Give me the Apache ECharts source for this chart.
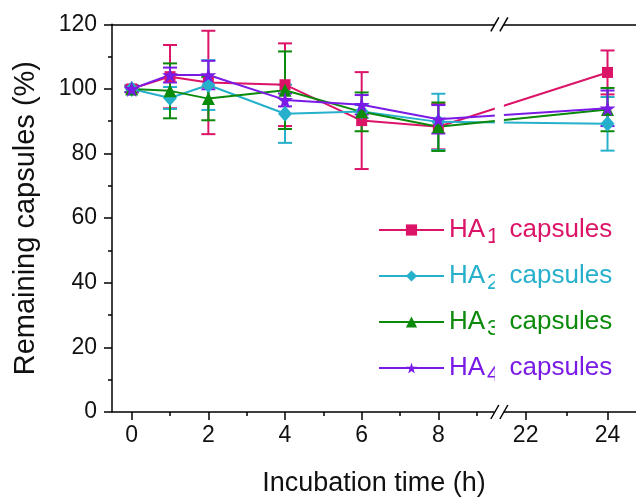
<!DOCTYPE html>
<html><head><meta charset="utf-8">
<script src="https://cdn.jsdelivr.net/npm/echarts@6/dist/echarts.min.js"></script>
<style>html,body{margin:0;padding:0;background:#fff}#c{width:636px;height:502px}</style>
</head><body><div id="c"></div>
<script>
// ---- data ----
const hours = [0, 1, 2, 4, 6, 8, 24];
const xTickLabels = [0, 2, 4, 6, 8, 22, 24];
const xMinorTicks = [1, 3, 5, 7, 9, 23];
const seriesNames = ['HA1 capsules', 'HA2 capsules', 'HA3 capsules', 'HA4 capsules'];
const ha1 = [100, 103.8, 102.0, 101.3, 90.2, 88.3, 105.1];
const ha1Err = [1.0, 9.8, 16.0, 12.8, 15.0, 7.0, 6.8];
const ha2 = [100, 97.2, 101.2, 92.3, 93.0, 89.8, 89.2];
const ha2Err = [1.0, 3.4, 7.7, 9.0, 2.0, 8.7, 8.3];
const ha3 = [100, 99.4, 97.0, 99.6, 92.9, 88.3, 93.6];
const ha3Err = [1.0, 8.5, 6.7, 12.0, 6.0, 7.5, 6.7];
const ha4 = [100, 104.3, 104.3, 96.6, 95.1, 90.6, 94.0];
const ha4Err = [1.0, 2.3, 4.4, 2.0, 3.0, 4.4, 5.5];

// ---- style ----
const colors = ['#DC1468', '#26B0CC', '#0B8A0B', '#7A1AE6'];
const STAR = 'path://M50,0 L61,35 L98,35 L68,57 L79,91 L50,70 L21,91 L32,57 L2,35 L39,35 Z';
const symbols = ['rect', 'diamond', 'triangle', STAR];
const symbolSizes = [11, [14, 16], 13, 16];
const FONT = "'Liberation Sans', Arial, sans-serif";

// broken time axis: hours -> axis position
function pos(t) { return t <= 9.6 ? t : 10.278 + (t - 22) * 1.068; }
function inv(p) { return p <= 9.7 ? p : 22 + (p - 10.278) / 1.068; }

const vals = [ha1, ha2, ha3, ha4];
const errs = [ha1Err, ha2Err, ha3Err, ha4Err];

const chart = echarts.init(document.getElementById('c'), null, {renderer: 'canvas'});

const series = [];
vals.forEach((v, i) => {
  const c = colors[i];
  series.push({
    type: 'custom', name: 'err' + i, xAxisIndex: 0, yAxisIndex: 0,
    encode: {x: 0, y: [1, 2]},
    data: hours.map((h, k) => [pos(h), v[k] - errs[i][k], v[k] + errs[i][k]]),
    renderItem: (params, api) => {
      const x = api.value(0);
      const lo = api.coord([x, api.value(1)]);
      const hi = api.coord([x, api.value(2)]);
      const w = 7;
      const st = {stroke: c, lineWidth: 2};
      return {type: 'group', children: [
        {type: 'line', shape: {x1: lo[0], y1: lo[1], x2: hi[0], y2: hi[1]}, style: st},
        {type: 'line', shape: {x1: lo[0] - w, y1: lo[1], x2: lo[0] + w, y2: lo[1]}, style: st},
        {type: 'line', shape: {x1: hi[0] - w, y1: hi[1], x2: hi[0] + w, y2: hi[1]}, style: st}
      ]};
    }
  });
  series.push({
    type: 'line', name: seriesNames[i], xAxisIndex: 0, yAxisIndex: 0,
    data: hours.map((h, k) => [pos(h), v[k]]),
    symbol: symbols[i], symbolSize: symbolSizes[i], showSymbol: true,
    itemStyle: {color: c}, lineStyle: {color: c, width: 2}
  });
});

const rich = {};
colors.forEach((c, i) => {
  rich['n' + i] = {fontSize: 26, color: c, fontFamily: FONT, lineHeight: 36};
  rich['s' + i] = {fontSize: 22, color: c, fontFamily: FONT, lineHeight: 14, verticalAlign: 'bottom', padding: [0, 3, 0, 2]};
});

const xMin = -0.514, xMax = 13.157;
const axisLineStyle = {color: '#000', width: 1.5};

chart.setOption({
  animation: false,
  backgroundColor: '#fff',
  grid: {left: 112, top: 24.3, width: 540, height: 389},
  legend: {
    orient: 'vertical', left: 373, top: 212, itemWidth: 65, itemHeight: 14, itemGap: 15,
    data: seriesNames,
    formatter: (name) => {
      const i = seriesNames.indexOf(name);
      return '{n' + i + '|HA}{s' + i + '|' + (i + 1) + '}{n' + i + '| capsules}';
    },
    textStyle: {rich: rich, fontFamily: FONT}
  },
  xAxis: [
    {
      type: 'value', min: xMin, max: xMax, position: 'bottom',
      name: 'Incubation time (h)', nameLocation: 'middle', nameGap: 58,
      nameTextStyle: {fontSize: 27, color: '#111', fontFamily: FONT},
      axisLine: {show: true, onZero: false, lineStyle: axisLineStyle},
      axisTick: {show: true, length: 8, lineStyle: {color: '#000', width: 1.5}, customValues: xTickLabels.map(pos)},
      axisLabel: {show: true, fontSize: 23, color: '#111', fontFamily: FONT, margin: 12,
        customValues: xTickLabels.map(pos), formatter: (p) => String(Math.round(inv(p)))},
      splitLine: {show: false}
    },
    {
      type: 'value', min: xMin, max: xMax, position: 'bottom', gridIndex: 0,
      axisLine: {show: false, onZero: false},
      axisTick: {show: true, length: 4, lineStyle: {color: '#000', width: 1.5}, customValues: xMinorTicks.map(pos)},
      axisLabel: {show: false, customValues: xMinorTicks.map(pos)},
      splitLine: {show: false}
    },
    {
      type: 'value', min: xMin, max: xMax, position: 'top',
      axisLine: {show: true, onZero: false, lineStyle: axisLineStyle},
      axisTick: {show: false}, axisLabel: {show: false}, splitLine: {show: false}
    }
  ],
  yAxis: {
    type: 'value', min: 0, max: 120, interval: 20,
    name: 'Remaining capsules (%)', nameLocation: 'middle', nameGap: 72, nameRotate: 90,
    nameTextStyle: {fontSize: 29, color: '#111', fontFamily: FONT},
    axisLine: {show: true, onZero: false, lineStyle: axisLineStyle},
    axisTick: {show: true, length: 8, lineStyle: {color: '#000', width: 1.5}},
    minorTick: {show: true, splitNumber: 2, length: 4, lineStyle: {color: '#000', width: 1.5}},
    axisLabel: {fontSize: 23, color: '#111', fontFamily: FONT, margin: 15},
    splitLine: {show: false}, minorSplitLine: {show: false}
  },
  series: series
});

// axis-break decoration placed through the chart's own scales
const bLo = chart.convertToPixel({xAxisIndex: 0}, 9.474);
const bHi = chart.convertToPixel({xAxisIndex: 0}, 9.71);
const yTop = chart.convertToPixel({yAxisIndex: 0}, 120);
const yBot = chart.convertToPixel({yAxisIndex: 0}, 0);
function slashes(y) {
  return [bLo, bHi].map(x => ({
    type: 'line', z: 101,
    shape: {x1: x - 4, y1: y + 7, x2: x + 4, y2: y - 7},
    style: {stroke: '#000', lineWidth: 1.5}
  }));
}
chart.setOption({
  graphic: {elements: [
    {type: 'rect', z: 100, shape: {x: bLo, y: yTop - 3, width: bHi - bLo, height: yBot - yTop + 6},
      style: {fill: '#fff'}},
    ...slashes(yTop), ...slashes(yBot)
  ]}
});
</script>
</body></html>
